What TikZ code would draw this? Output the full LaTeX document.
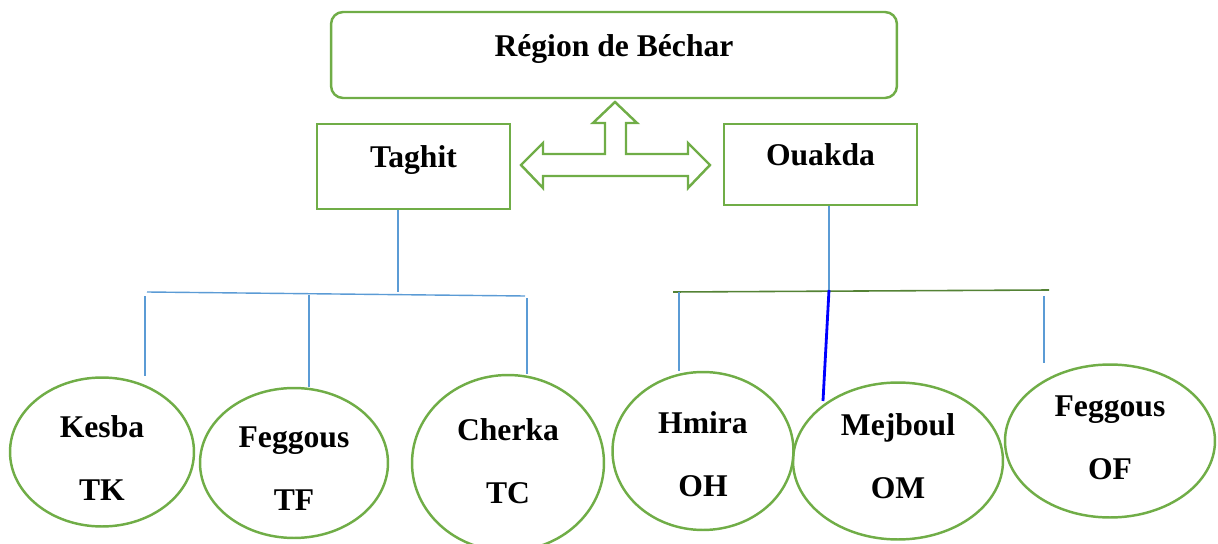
\documentclass[tikz,border=0pt]{standalone}
\usepackage{fontspec}
\setmainfont{Liberation Serif}
\usepackage{xcolor}
\usepackage{tikz}
\usetikzlibrary{shapes.geometric,calc}
\definecolor{leaf}{RGB}{112,173,71}
\definecolor{twig}{RGB}{91,155,213}
\definecolor{moss}{RGB}{84,130,53}
\tikzset{
  region/.style={draw=leaf, line width=1.4pt, rounded corners=2.4mm, inner sep=0pt, font=\fontsize{18}{20}\selectfont\bfseries},
  zone/.style={draw=leaf, line width=1.4pt, inner sep=0pt, minimum width=38.6mm, font=\fontsize{18}{20}\selectfont\bfseries},
  site/.style={draw=leaf, line width=1.4pt, ellipse, inner sep=0pt, align=center, text depth=0mm, font=\fontsize{18}{36}\selectfont\bfseries},
  tree/.style={draw=twig, line width=0.8pt},
}
\begin{document}
\begin{tikzpicture}[x=0.02cm, y=-0.02cm,
  bar/.style={draw=moss, line width=0.9pt},
  stem/.style={draw=blue, line width=1.6pt}]
  \useasboundingbox (0,0) rectangle (1218,544);
  % boxes
  \node[region, minimum width=113.2mm, text height=9mm, text depth=8.2mm] (bechar) at (614,55) {Région de Béchar};
  \node[zone, text height=8.8mm, text depth=8.2mm] (taghit) at (413.5,166.5) {Taghit};
  \node[zone, text height=8.4mm, text depth=7.8mm] (ouakda) at (820.5,164.5) {Ouakda};
  % three-way block arrow
  \draw[leaf, line width=1.4pt, line join=miter] (615,102) -- (637,123) -- (626,123) -- (626,154) -- (688,154) -- (688,143)
    -- (710,165) -- (688,188) -- (688,176) -- (543,176) -- (543,188) -- (521,165) -- (543,143) -- (543,154)
    -- (605,154) -- (605,123) -- (593,123) -- cycle;
  % sites
  \node[site, minimum width=36.8mm, minimum height=29.8mm, text height=19.6mm] (kesba) at (102,452) {Kesba\\TK};
  \node[site, minimum width=37.6mm, minimum height=30mm, text height=19.2mm] (tfeg) at (294,463) {Feggous\\TF};
  \node[site, minimum width=38.4mm, minimum height=35.2mm, text height=16.4mm] (cherka) at (508,463) {Cherka\\TC};
  \node[site, minimum width=36.2mm, minimum height=31.6mm, text height=18.4mm] (hmira) at (703,451) {Hmira\\OH};
  \node[site, minimum width=42mm, minimum height=31.4mm, text height=15.2mm] (mejboul) at (898,461) {Mejboul\\OM};
  \node[site, minimum width=42mm, minimum height=30.6mm, text height=15.6mm] (ofeg) at (1110,441) {Feggous\\OF};
  % Taghit branch
  \coordinate (tj) at (398,292);
  \coordinate (tl) at (147,292);
  \coordinate (tr) at (525,296);
  \coordinate (tk) at (145,296);
  \coordinate (tf) at (309,295);
  \coordinate (tc) at (527,298);
  \draw[tree] (taghit.south -| tj) -- (tj);
  \draw[tree] (tl) -- (tr);
  \draw[tree] (tk) -- (tk |- kesba.north);
  \draw[tree] (tf) -- (tf |- tfeg.north);
  \draw[tree] (tc) -- (tc |- cherka.north);
  % Ouakda branch
  \coordinate (oj) at (829,290);
  \coordinate (ol) at (673,292);
  \coordinate (or) at (1049,290);
  \coordinate (oh) at (679,292);
  \coordinate (om) at (823,401);
  \coordinate (of) at (1044,296);
  \draw[tree] (ouakda.south -| oj) -- (oj);
  \draw[bar] (ol) -- (or);
  \draw[tree] (oh) -- (oh |- hmira.north);
  \draw[stem] (oj) -- (om);
  \draw[tree] (of) -- (of |- ofeg.north);
\end{tikzpicture}
\end{document}
